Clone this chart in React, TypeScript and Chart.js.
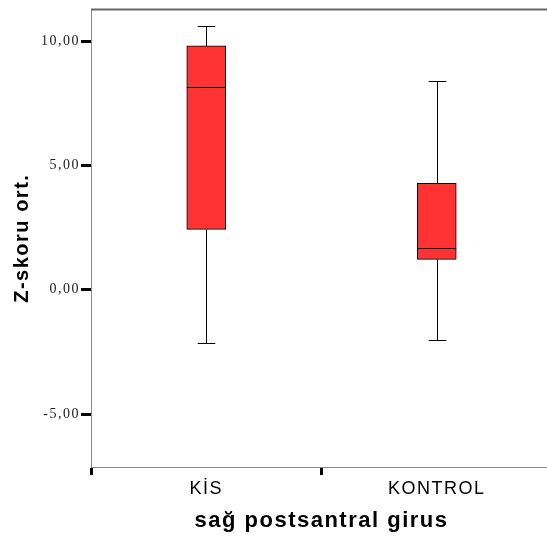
import React, { useEffect, useRef } from "react";
import { Chart, registerables } from "chart.js";

Chart.register(...registerables);

const categories = ["KİS", "KONTROL"];
const whiskerLow = [-2.14, -2.03];
const q1 = [2.43, 1.22];
const median = [8.14, 1.67];
const q3 = [9.81, 4.28];
const whiskerHigh = [10.61, 8.4];
const yTickValues = [-5, 0, 5, 10];
const yMin = -7.13;
const yMax = 11.28;
const xTitle = "sağ postsantral girus";
const yTitle = "Z-skoru ort.";

const spacingPlugin = {
  id: "spacing",
  beforeUpdate(chart: any) {
    (chart.ctx as any).letterSpacing = "1.5px";
  },
  beforeDraw(chart: any) {
    (chart.ctx as any).letterSpacing = "1.5px";
  },
};

const boxPlugin = {
  id: "boxplot",
  afterDatasetsDraw(chart: any) {
    const ctx = chart.ctx;
    const xs = chart.scales.x;
    const ys = chart.scales.y;
    const meta = chart.getDatasetMeta(0);
    const area = chart.chartArea;
    ctx.save();
    // top border
    ctx.strokeStyle = "#666";
    ctx.lineWidth = 2;
    ctx.beginPath();
    ctx.moveTo(area.left, area.top);
    ctx.lineTo(area.right, area.top);
    ctx.stroke();
    ctx.strokeStyle = "#000";
    ctx.lineWidth = 1;
    categories.forEach((_, i) => {
      const bar = meta.data[i];
      const x = Math.round(xs.getPixelForValue(i)) + 0.5;
      const half = bar.width / 2;
      const cap = bar.width * 0.225;
      const yL = Math.round(ys.getPixelForValue(whiskerLow[i])) + 0.5;
      const yH = Math.round(ys.getPixelForValue(whiskerHigh[i])) + 0.5;
      const y1 = ys.getPixelForValue(q1[i]);
      const y3 = ys.getPixelForValue(q3[i]);
      const yM = Math.round(ys.getPixelForValue(median[i])) + 0.5;
      ctx.beginPath();
      ctx.moveTo(x, y3);
      ctx.lineTo(x, yH);
      ctx.moveTo(x - cap, yH);
      ctx.lineTo(x + cap, yH);
      ctx.moveTo(x, y1);
      ctx.lineTo(x, yL);
      ctx.moveTo(x - cap, yL);
      ctx.lineTo(x + cap, yL);
      ctx.moveTo(bar.x - half, yM);
      ctx.lineTo(bar.x + half, yM);
      ctx.stroke();
    });
    ctx.restore();
  },
};

export default function App() {
  const ref = useRef<HTMLCanvasElement>(null);
  useEffect(() => {
    if (!ref.current) return;
    const chart = new Chart(ref.current, {
      type: "bar",
      data: {
        labels: categories,
        datasets: [
          {
            data: categories.map((_, i) => [q1[i], q3[i]]) as any,
            backgroundColor: "#FF3333",
            borderColor: "#000",
            borderWidth: 1,
            borderSkipped: false,
            barThickness: 39,
          },
        ],
      },
      options: {
        animation: false,
        responsive: false,
        maintainAspectRatio: false,
        layout: { padding: { left: 0, top: 8, right: 8, bottom: 0 } },
        plugins: { legend: { display: false }, tooltip: { enabled: false } },
        scales: {
          x: {
            offset: true,
            grid: {
              display: true,
              drawOnChartArea: false,
              drawTicks: true,
              offset: true,
              tickLength: 8,
              tickWidth: 3,
              tickColor: "#000",
            },
            border: { display: true, color: "#888", width: 1 },
            ticks: {
              color: "#000",
              padding: 3,
              font: { family: "'Liberation Sans', Arial, sans-serif", size: 18 },
            },
            title: {
              display: true,
              text: xTitle,
              color: "#000",
              padding: { top: 0, bottom: 10 },
              font: { family: "'Liberation Sans', Arial, sans-serif", size: 22, weight: "bold" },
            },
            afterFit(scale: any) {
              scale.height = 77;
            },
          },
          y: {
            min: yMin,
            max: yMax,
            afterBuildTicks(scale: any) {
              scale.ticks = yTickValues.map((v) => ({ value: v }));
            },
            grid: {
              display: true,
              drawOnChartArea: false,
              drawTicks: true,
              tickLength: 10,
              tickWidth: 3,
              tickColor: "#000",
            },
            border: { display: true, color: "#888", width: 1 },
            ticks: {
              color: "#222",
              padding: 1,
              font: { family: "'Liberation Serif', 'Times New Roman', serif", size: 14 },
              callback: (v: any) => Number(v).toFixed(2).replace(".", ","),
            },
            title: {
              display: true,
              text: yTitle,
              color: "#000",
              padding: { top: 10, bottom: 0 },
              font: { family: "'Liberation Sans', Arial, sans-serif", size: 20, weight: "bold" },
            },
            afterFit(scale: any) {
              scale.width = 91;
            },
          },
        },
      },
      plugins: [spacingPlugin, boxPlugin],
    });
    return () => chart.destroy();
  }, []);
  return (
    <div style={{ position: "fixed", left: 0, top: 0, width: 560, height: 544, background: "#fff" }}>
      <canvas ref={ref} width={560} height={544} style={{ display: "block" }} />
    </div>
  );
}
